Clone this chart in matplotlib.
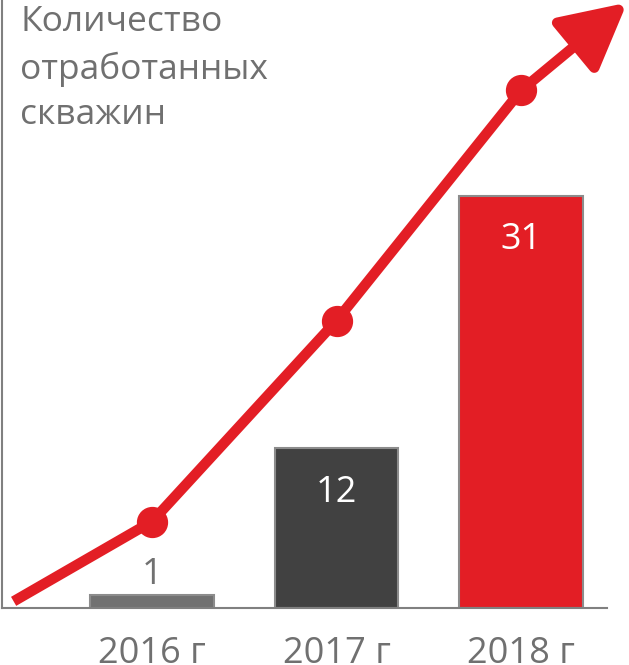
import matplotlib.pyplot as plt

plt.rcParams['font.family'] = ['Open Sans', 'DejaVu Sans']

# data
years = ["2016 г", "2017 г", "2018 г"]
wells = [1, 12, 31]
bar_colors = ["#717171", "#414141", "#e31e25"]
label_colors = ["#717171", "#ffffff", "#ffffff"]

# decorative trend arrow (data units of the chart)
trend_x = [-0.75, 0, 1, 2, 2.575]
trend_y = [0.5, 6.5, 21.6, 38.9, 45.5]

title = "Количество\nотработанных\nскважин"

red = "#e31e25"
grey = "#707070"

fig = plt.figure(figsize=(6.29, 6.65), dpi=100)
ax = fig.add_axes([2 / 629, 57 / 665, 605 / 629, 608 / 665])

pos = list(range(len(years)))
ax.bar(pos, wells, width=0.667, color=bar_colors, edgecolor="#8c8c8c", linewidth=1.5, zorder=2)

for i in pos:
    if wells[i] > 5:
        off = -32
    else:
        off = 14
    ax.annotate(str(wells[i]), (pos[i], wells[i]), xytext=(0, off), textcoords="offset points",
                ha="center", va="center", fontsize=26, color=label_colors[i], zorder=3)

# trend line with markers
ax.plot(trend_x[:4], trend_y[:4], color=red, lw=7.5, solid_capstyle="butt", zorder=4, clip_on=False)
ax.plot(trend_x[1:4], trend_y[1:4], "o", color=red, markersize=21.5, zorder=5, clip_on=False)
ax.annotate("", xy=(trend_x[4], trend_y[4]), xytext=(trend_x[3], trend_y[3]),
            arrowprops=dict(arrowstyle="-|>,head_length=0.4,head_width=0.21", mutation_scale=100,
                            color=red, lw=7.5, shrinkA=0, shrinkB=0, joinstyle="round", capstyle="butt"),
            annotation_clip=False, zorder=4)

ax.set_xlim(-0.813, 2.466)
ax.set_ylim(0, 45.7)

ax.spines["top"].set_visible(False)
ax.spines["right"].set_visible(False)
for s in ["left", "bottom"]:
    ax.spines[s].set_color("#808080")
    ax.spines[s].set_linewidth(1.5)

ax.set_xticks(pos)
ax.set_xticklabels(years, fontsize=26, color=grey)
ax.tick_params(axis="x", length=0, pad=20)
ax.set_yticks([])

fig.text(20 / 629, 1 - 5 / 665, title, ha="left", va="top", fontsize=25.5, color=grey, linespacing=1.45)

fig.savefig("out.png", dpi=100)
